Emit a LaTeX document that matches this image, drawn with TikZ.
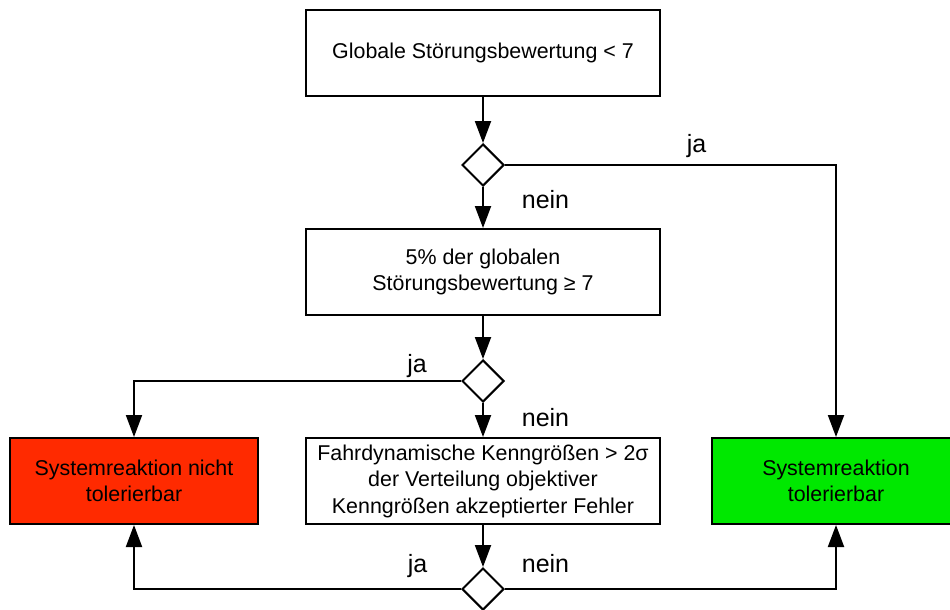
\documentclass[tikz,border=0pt]{standalone}
\usepackage{fontspec}
\setmainfont{Liberation Sans}
\usetikzlibrary{arrows.meta,shapes.geometric}
\definecolor{failred}{RGB}{255,42,0}
\definecolor{okgreen}{RGB}{0,232,0}
\tikzset{
  every node/.style={font=\fontsize{21.4}{26.5}\selectfont},
  stepbox/.style={draw, line width=2pt, minimum width=354pt, minimum height=86pt,
    align=center, inner sep=0pt},
  resultbox/.style={stepbox, minimum width=248pt},
  decision/.style={draw, fill=white, diamond, aspect=1, line width=2pt,
    minimum size=42pt, inner sep=0pt},
  flow/.style={line width=2pt, -{Triangle[length=22pt,width=16pt]}},
  lbl/.style={inner sep=0pt, anchor=base, font=\fontsize{25}{30}\selectfont}
}
\begin{document}
\begin{tikzpicture}[x=1pt,y=-1pt]
  \useasboundingbox (0,0) rectangle (950,610);

  % process boxes
  \node[stepbox] (b1) at (483,53) {Globale Störungsbewertung < 7};
  \node[stepbox] (b2) at (483,272) {5\% der globalen\\Störungsbewertung ≥ 7};
  \node[stepbox] (b3) at (483,481) {Fahrdynamische Kenngrößen > 2σ\\der Verteilung objektiver\\Kenngrößen akzeptierter Fehler};

  % outcomes
  \node[resultbox, fill=failred] (red) at (134,481) {Systemreaktion nicht\\tolerierbar};
  \node[resultbox, fill=okgreen] (green) at (836,481) {Systemreaktion\\tolerierbar};

  % decisions
  \node[decision] (d1) at (483,165) {};
  \node[decision] (d2) at (483,381) {};
  \node[decision] (d3) at (483,589) {};

  % connectors
  \draw[flow] (b1.south) -- (d1.north);
  \draw[flow] (d1.east) -| (green.north);
  \draw[flow] (d1.south) -- (b2.north);
  \draw[flow] (b2.south) -- (d2.north);
  \draw[flow] (d2.west) -| (red.north);
  \draw[flow] (d2.south) -- (b3.north);
  \draw[flow] (b3.south) -- (d3.north);
  \draw[flow] (d3.west) -| (red.south);
  \draw[flow] (d3.east) -| (green.south);

  % branch labels
  \node[lbl] (l1) at (696.5,152) {ja};
  \node[lbl] (l2) at (545.5,208) {nein};
  \node[lbl] (l3) at (417,372) {ja};
  \node[lbl] (l4) at (545.5,426) {nein};
  \node[lbl] (l5) at (417.5,572) {ja};
  \node[lbl] (l6) at (545.5,572) {nein};
\end{tikzpicture}
\end{document}
